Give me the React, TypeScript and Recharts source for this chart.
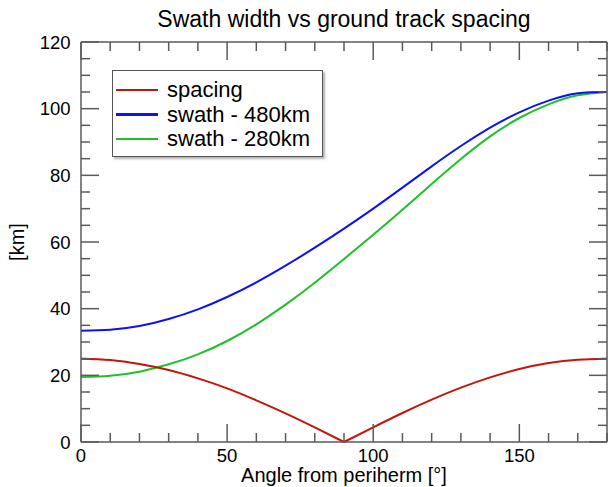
import React from "react";
import { LineChart, Line, XAxis, YAxis } from "recharts";

// values, every 10 degrees
const angles = [0, 10, 20, 30, 40, 50, 60, 70, 80, 90, 100, 110, 120, 130, 140, 150, 160, 170, 180];
const spacing = [25.0, 24.6, 23.4, 21.6, 19.1, 16.1, 12.5, 8.6, 4.4, 0, 4.4, 8.7, 12.7, 16.3, 19.4, 21.9, 23.7, 24.7, 25.0];
const swath480 = [33.4, 33.7, 34.8, 36.9, 39.8, 43.5, 47.9, 52.9, 58.3, 64.0, 70.0, 76.3, 82.7, 88.8, 94.3, 98.9, 102.4, 104.6, 105.0];
const swath280 = [19.5, 19.9, 21.1, 23.3, 26.3, 30.3, 35.3, 41.2, 47.8, 54.9, 62.2, 69.7, 77.4, 84.9, 91.7, 97.2, 101.3, 104.0, 105.0];

const xTicks = [0, 10, 20, 30, 40, 50, 60, 70, 80, 90, 100, 110, 120, 130, 140, 150, 160, 170, 180];
const xLabeled = [0, 50, 100, 150];
const yTicks = [0, 5, 10, 15, 20, 25, 30, 35, 40, 45, 50, 55, 60, 65, 70, 75, 80, 85, 90, 95, 100, 105, 110, 115, 120];
const yLabeled = [0, 20, 40, 60, 80, 100, 120];

const legendItems = [
  { name: "spacing", color: "#c4150c" },
  { name: "swath - 480km", color: "#0d12f2" },
  { name: "swath - 280km", color: "#1fc02a" },
];

const AXIS = "#5a5a5a";
const FONT = "'Liberation Sans', Arial, sans-serif";

// the spacing curve has a sharp minimum at 90 deg, so it is drawn in two halves
const data = angles.map((a, i) => ({
  angle: a,
  s480: swath480[i],
  s280: swath280[i],
  spL: a <= 90 ? spacing[i] : null,
  spR: a >= 90 ? spacing[i] : null,
}));

const BottomTick = (props: any) => {
  const { x, y, payload } = props;
  const major = xLabeled.includes(payload.value);
  return (
    <g>
      <line x1={x} y1={y} x2={x} y2={y - (major ? 18 : 9)} stroke={AXIS} strokeWidth={1.5} />
      {major && (
        <text x={x} y={y + 20} textAnchor="middle" fontSize={18.5} fill="#000" fontFamily={FONT}>
          {payload.value}
        </text>
      )}
    </g>
  );
};

const TopTick = (props: any) => {
  const { x, y, payload } = props;
  const major = xLabeled.includes(payload.value);
  return <line x1={x} y1={y} x2={x} y2={y + (major ? 18 : 9)} stroke={AXIS} strokeWidth={1.5} />;
};

const LeftTick = (props: any) => {
  const { x, y, payload } = props;
  const major = yLabeled.includes(payload.value);
  return (
    <g>
      <line x1={x} y1={y} x2={x + (major ? 18 : 9)} y2={y} stroke={AXIS} strokeWidth={1.5} />
      {major && (
        <text x={x - 10.5} y={y} dy="0.36em" textAnchor="end" fontSize={18.5} fill="#000" fontFamily={FONT}>
          {payload.value}
        </text>
      )}
    </g>
  );
};

const RightTick = (props: any) => {
  const { x, y, payload } = props;
  const major = yLabeled.includes(payload.value);
  return <line x1={x} y1={y} x2={x - (major ? 18 : 9)} y2={y} stroke={AXIS} strokeWidth={1.5} />;
};

export default function App() {
  return (
    <div style={{ position: "absolute", left: 0, top: 0, width: 610, height: 487, background: "#fff", fontFamily: FONT }}>
      <LineChart width={610} height={487} data={data} margin={{ top: 41, right: 2, bottom: 44, left: 80 }}>
        <XAxis
          dataKey="angle"
          type="number"
          domain={[0, 180]}
          ticks={xTicks}
          interval={0}
          height={1}
          tickSize={0}
          tickMargin={0}
          tickLine={false}
          tick={BottomTick}
          axisLine={{ stroke: AXIS, strokeWidth: 1.5 }}
        />
        <XAxis
          xAxisId="top"
          orientation="top"
          dataKey="angle"
          type="number"
          domain={[0, 180]}
          allowDataOverflow
          ticks={xTicks}
          interval={0}
          height={1}
          tickSize={0}
          tickMargin={0}
          tickLine={false}
          tick={TopTick}
          axisLine={{ stroke: AXIS, strokeWidth: 1.5 }}
        />
        <YAxis
          type="number"
          domain={[0, 120]}
          ticks={yTicks}
          interval={0}
          width={1}
          tickSize={0}
          tickMargin={0}
          tickLine={false}
          tick={LeftTick}
          axisLine={{ stroke: AXIS, strokeWidth: 1.5 }}
        />
        <YAxis
          yAxisId="right"
          orientation="right"
          type="number"
          domain={[0, 120]}
          allowDataOverflow
          ticks={yTicks}
          interval={0}
          width={1}
          tickSize={0}
          tickMargin={0}
          tickLine={false}
          tick={RightTick}
          axisLine={{ stroke: AXIS, strokeWidth: 1.5 }}
        />
        <Line type="natural" dataKey="s280" stroke={legendItems[2].color} strokeWidth={2} dot={false} isAnimationActive={false} />
        <Line type="natural" dataKey="s480" stroke={legendItems[1].color} strokeWidth={2} dot={false} isAnimationActive={false} />
        <Line type="natural" dataKey="spL" stroke={legendItems[0].color} strokeWidth={2} dot={false} isAnimationActive={false} />
        <Line type="natural" dataKey="spR" stroke={legendItems[0].color} strokeWidth={2} dot={false} isAnimationActive={false} />
      </LineChart>

      <div style={{ position: "absolute", left: 0, width: 688, top: 4, textAlign: "center", fontSize: 23, color: "#000", lineHeight: "30px" }}>
        Swath width vs ground track spacing
      </div>

      <div style={{ position: "absolute", left: 81, width: 526, top: 463, textAlign: "center", fontSize: 20, color: "#000", lineHeight: "24px" }}>
        Angle from periherm [°]
      </div>

      <div
        style={{
          position: "absolute",
          left: 17,
          top: 242,
          transform: "translate(-50%, -50%) rotate(-90deg)",
          fontSize: 20,
          color: "#000",
          whiteSpace: "nowrap",
          lineHeight: "24px",
        }}
      >
        [km]
      </div>

      <div
        style={{
          position: "absolute",
          left: 112,
          top: 70,
          width: 211,
          height: 87,
          border: "1.5px solid #555",
          background: "#fff",
          boxShadow: "2px 2px 2px rgba(0,0,0,0.3)",
          boxSizing: "border-box",
        }}
      >
        {legendItems.map((it, i) => (
          <div key={it.name} style={{ position: "absolute", left: 0, top: 6 + i * 24.5, height: 26, display: "flex", alignItems: "center" }}>
            <div style={{ marginLeft: 3, width: 42, height: 2.5, background: it.color }} />
            <div style={{ marginLeft: 9, fontSize: 22, color: "#000", lineHeight: "26px", whiteSpace: "nowrap" }}>{it.name}</div>
          </div>
        ))}
      </div>
    </div>
  );
}
